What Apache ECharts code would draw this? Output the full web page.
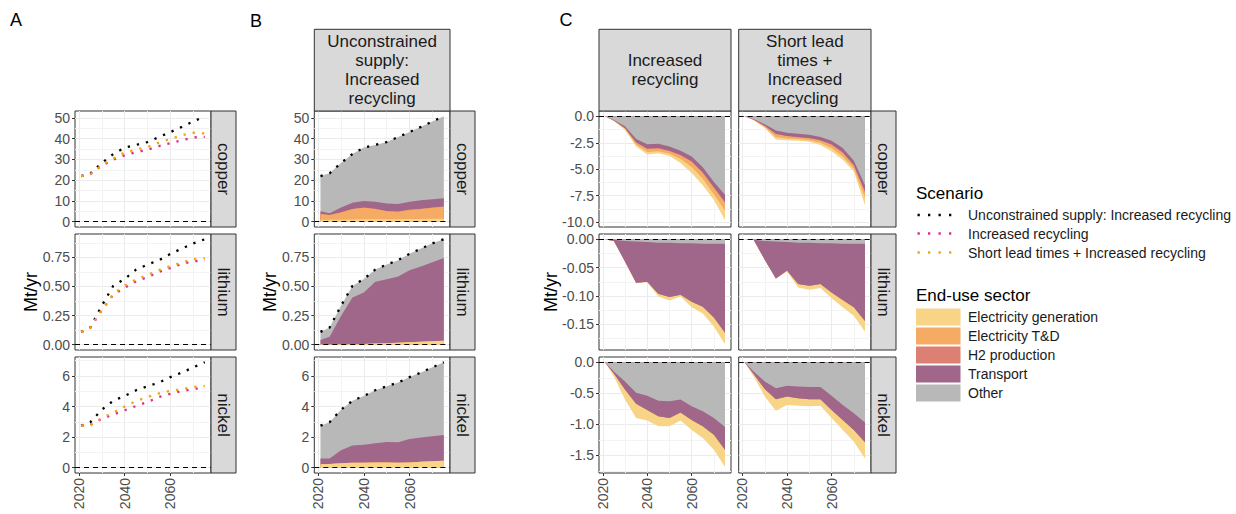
<!DOCTYPE html>
<html><head><meta charset="utf-8">
<script src="https://cdn.jsdelivr.net/npm/echarts@6/dist/echarts.min.js"></script>
<style>html,body{margin:0;padding:0;background:#fff}#c{width:1236px;height:514px}</style>
</head><body><div id="c"></div>
<script>
// ---------------- DATA ----------------
const years = [2021, 2025, 2030, 2035, 2040, 2045, 2050, 2055, 2060, 2065, 2070, 2075];
const minerals = ['copper', 'lithium', 'nickel'];
const scenarioNames = ['Unconstrained supply: Increased recycling', 'Increased recycling', 'Short lead times + Increased recycling'];
const sectorNames = ['Electricity generation', 'Electricity T&D', 'H2 production', 'Transport', 'Other'];
const stripTopB = 'Unconstrained\nsupply:\nIncreased\nrecycling';
const stripTopC1 = 'Increased\nrecycling';
const stripTopC2 = 'Short lead\ntimes +\nIncreased\nrecycling';
const xTicks = [2020, 2040, 2060];
const xMinorTicks = [2030, 2050, 2070];

// Panel A: total demand per scenario (Mt/yr)
const copperUnconstrained = [22.0, 23.3, 28.3, 32.6, 35.7, 37.0, 38.4, 40.8, 43.2, 45.7, 48.3, 50.8];
const copperIncreased = [22.0, 22.9, 27.0, 29.9, 32.0, 33.5, 34.7, 36.4, 37.9, 39.2, 40.6, 40.9];
const copperShortLead = [22.0, 22.9, 27.2, 30.4, 33.4, 34.7, 36.0, 38.1, 39.9, 41.6, 42.9, 42.5];
const lithiumUnconstrained = [0.110, 0.148, 0.335, 0.505, 0.565, 0.645, 0.688, 0.726, 0.780, 0.825, 0.870, 0.905];
const lithiumIncreased = [0.110, 0.145, 0.296, 0.429, 0.489, 0.544, 0.580, 0.625, 0.660, 0.694, 0.716, 0.722];
const lithiumShortLead = [0.110, 0.147, 0.299, 0.436, 0.508, 0.560, 0.599, 0.640, 0.676, 0.705, 0.735, 0.742];
const nickelUnconstrained = [2.75, 2.98, 3.80, 4.38, 4.70, 5.07, 5.33, 5.57, 5.93, 6.23, 6.57, 6.90];
const nickelIncreased = [2.75, 2.80, 3.20, 3.48, 3.76, 4.04, 4.30, 4.63, 4.84, 5.01, 5.16, 5.21];
const nickelShortLead = [2.75, 2.80, 3.25, 3.60, 4.01, 4.37, 4.62, 4.87, 5.03, 5.14, 5.29, 5.35];

// Panel B: unconstrained demand by end-use sector
const bCopperGen = [1.0, 0.9, 1.0, 1.1, 1.2, 1.2, 1.2, 1.2, 1.3, 1.3, 1.4, 1.4];
const bCopperTD = [2.7, 2.3, 3.5, 5.0, 5.5, 4.9, 3.9, 3.6, 4.4, 4.8, 5.3, 5.8];
const bCopperH2 = [0.0, 0.0, 0.05, 0.05, 0.1, 0.1, 0.1, 0.1, 0.15, 0.15, 0.2, 0.2];
const bCopperTransport = [1.4, 0.9, 2.35, 3.05, 3.2, 3.4, 3.6, 3.6, 3.75, 4.15, 3.9, 3.9];
const bCopperOther = [16.9, 19.2, 21.4, 23.4, 25.7, 27.4, 29.6, 32.3, 33.6, 35.3, 37.5, 39.5];
const bLithiumGen = [0.002, 0.002, 0.003, 0.004, 0.006, 0.010, 0.013, 0.016, 0.022, 0.026, 0.030, 0.035];
const bLithiumTD = [0, 0, 0, 0, 0, 0, 0, 0, 0, 0, 0, 0];
const bLithiumH2 = [0, 0, 0, 0, 0, 0, 0, 0, 0, 0, 0, 0];
const bLithiumTransport = [0.038, 0.067, 0.244, 0.401, 0.442, 0.530, 0.550, 0.570, 0.618, 0.646, 0.677, 0.709];
const bLithiumOther = [0.070, 0.079, 0.088, 0.100, 0.117, 0.105, 0.125, 0.140, 0.140, 0.153, 0.163, 0.161];
const bNickelGen = [0.22, 0.24, 0.30, 0.32, 0.32, 0.35, 0.35, 0.32, 0.35, 0.39, 0.43, 0.45];
const bNickelTD = [0, 0, 0, 0, 0, 0, 0, 0, 0, 0, 0, 0];
const bNickelH2 = [0, 0, 0, 0, 0, 0, 0, 0, 0, 0, 0, 0];
const bNickelTransport = [0.38, 0.36, 0.85, 1.13, 1.18, 1.25, 1.34, 1.35, 1.53, 1.58, 1.63, 1.69];
const bNickelOther = [2.15, 2.38, 2.65, 2.93, 3.20, 3.47, 3.64, 3.90, 4.05, 4.26, 4.51, 4.76];

// Panel C: change vs unconstrained, by sector — Increased recycling (IR) / Short lead times (SL)
const cCopperIROther = [0, -0.35, -0.95, -2.15, -2.65, -2.6, -2.85, -3.25, -3.8, -4.8, -6.2, -7.4];
const cCopperIRTransport = [0, -0.05, -0.15, -0.3, -0.4, -0.4, -0.4, -0.4, -0.45, -0.5, -0.5, -0.7];
const cCopperIRH2 = [0, 0, -0.01, -0.02, -0.03, -0.03, -0.03, -0.03, -0.04, -0.04, -0.05, -0.05];
const cCopperIRTD = [0, -0.03, -0.1, -0.2, -0.3, -0.27, -0.25, -0.35, -0.5, -0.55, -0.6, -0.75];
const cCopperIRGen = [0, -0.02, -0.09, -0.17, -0.22, -0.2, -0.22, -0.37, -0.56, -0.61, -0.55, -0.9];
const cCopperSLOther = [0, -0.25, -0.75, -1.35, -1.55, -1.65, -1.75, -1.95, -2.3, -3.0, -4.2, -6.5];
const cCopperSLTransport = [0, -0.05, -0.15, -0.3, -0.3, -0.3, -0.3, -0.3, -0.35, -0.4, -0.4, -0.6];
const cCopperSLH2 = [0, 0, -0.01, -0.02, -0.02, -0.02, -0.02, -0.02, -0.03, -0.03, -0.04, -0.05];
const cCopperSLTD = [0, -0.05, -0.11, -0.28, -0.23, -0.18, -0.18, -0.23, -0.32, -0.37, -0.31, -0.55];
const cCopperSLGen = [0, -0.03, -0.08, -0.25, -0.17, -0.15, -0.15, -0.2, -0.3, -0.3, -0.25, -0.7];
const cLithiumIROther = [0, -0.001, -0.003, -0.004, -0.005, -0.006, -0.006, -0.007, -0.007, -0.008, -0.008, -0.008];
const cLithiumIRTransport = [0, -0.002, -0.036, -0.0725, -0.070, -0.090, -0.096, -0.091, -0.103, -0.111, -0.130, -0.157];
const cLithiumIRH2 = [0, 0, 0, 0, 0, 0, 0, 0, 0, 0, 0, 0];
const cLithiumIRTD = [0, 0, 0, 0, 0, 0, 0, 0, 0, 0, 0, 0];
const cLithiumIRGen = [0, 0, 0, 0, -0.001, -0.005, -0.006, -0.003, -0.010, -0.012, -0.016, -0.020];
const cLithiumSLOther = [0, -0.001, -0.003, -0.004, -0.005, -0.006, -0.006, -0.007, -0.007, -0.008, -0.008, -0.008];
const cLithiumSLTransport = [0, 0, -0.033, -0.065, -0.050, -0.073, -0.076, -0.072, -0.087, -0.099, -0.112, -0.136];
const cLithiumSLH2 = [0, 0, 0, 0, 0, 0, 0, 0, 0, 0, 0, 0];
const cLithiumSLTD = [0, 0, 0, 0, 0, 0, 0, 0, 0, 0, 0, 0];
const cLithiumSLGen = [0, 0, 0, 0, -0.002, -0.006, -0.007, -0.007, -0.010, -0.013, -0.015, -0.019];
const cNickelIROther = [0, -0.15, -0.31, -0.49, -0.54, -0.62, -0.63, -0.60, -0.71, -0.79, -0.90, -1.045];
const cNickelIRTransport = [0, -0.03, -0.13, -0.18, -0.23, -0.25, -0.27, -0.21, -0.22, -0.24, -0.27, -0.365];
const cNickelIRH2 = [0, 0, 0, 0, 0, 0, 0, 0, 0, 0, 0, 0];
const cNickelIRTD = [0, 0, 0, 0, 0, 0, 0, 0, 0, 0, 0, 0];
const cNickelIRGen = [0, -0.05, -0.16, -0.23, -0.17, -0.16, -0.13, -0.13, -0.16, -0.19, -0.24, -0.28];
const cNickelSLOther = [0, -0.15, -0.31, -0.42, -0.38, -0.39, -0.40, -0.40, -0.54, -0.69, -0.82, -0.97];
const cNickelSLTransport = [0, -0.04, -0.12, -0.175, -0.17, -0.19, -0.195, -0.195, -0.23, -0.24, -0.27, -0.32];
const cNickelSLH2 = [0, 0, 0, 0, 0, 0, 0, 0, 0, 0, 0, 0];
const cNickelSLTD = [0, 0, 0, 0, 0, 0, 0, 0, 0, 0, 0, 0];
const cNickelSLGen = [0, -0.04, -0.12, -0.185, -0.14, -0.12, -0.115, -0.105, -0.13, -0.16, -0.19, -0.26];

// ---------------- STYLE / LAYOUT ----------------
const FONT = '"Liberation Sans", Arial, Helvetica, sans-serif';
const scenarioColors = ['#000000', '#DE2D8F', '#F2A60C'];
const sectorColors = ['#F8D486', '#F5AB63', '#DB8073', '#A0678A', '#B8B8B8'];
const X_MIN = 2018.3, X_MAX = 2077.7;
const rowTops = [111, 234, 357], rowH = 116;
const colA = {left: 75, width: 136}, colB = {left: 314.3, width: 135.7};
const colC1 = {left: 599, width: 132}, colC2 = {left: 738.7, width: 132.3};
const STRIP_W = 25, TOP_STRIP_Y = 29.3;

const yAB = [
  {min: -2.54, max: 53.34, major: [0, 10, 20, 30, 40, 50], minor: [5, 15, 25, 35, 45], dec: 0},
  {min: -0.0453, max: 0.9503, major: [0, 0.25, 0.5, 0.75], minor: [0.125, 0.375, 0.625, 0.875], dec: 2},
  {min: -0.345, max: 7.245, major: [0, 2, 4, 6], minor: [1, 3, 5, 7], dec: 0}
];
const yC = [
  {min: -10.45, max: 0.5, major: [-10, -7.5, -5, -2.5, 0], minor: [-8.75, -6.25, -3.75, -1.25], dec: 1},
  {min: -0.1953, max: 0.0093, major: [-0.15, -0.1, -0.05, 0], minor: [-0.175, -0.125, -0.075, -0.025], dec: 2},
  {min: -1.785, max: 0.085, major: [-1.5, -1, -0.5, 0], minor: [-1.75, -1.25, -0.75, -0.25], dec: 1}
];

const aData = [
  [copperUnconstrained, copperIncreased, copperShortLead],
  [lithiumUnconstrained, lithiumIncreased, lithiumShortLead],
  [nickelUnconstrained, nickelIncreased, nickelShortLead]
];
const bData = [
  [bCopperGen, bCopperTD, bCopperH2, bCopperTransport, bCopperOther],
  [bLithiumGen, bLithiumTD, bLithiumH2, bLithiumTransport, bLithiumOther],
  [bNickelGen, bNickelTD, bNickelH2, bNickelTransport, bNickelOther]
];
const cDataIR = [
  [cCopperIRGen, cCopperIRTD, cCopperIRH2, cCopperIRTransport, cCopperIROther],
  [cLithiumIRGen, cLithiumIRTD, cLithiumIRH2, cLithiumIRTransport, cLithiumIROther],
  [cNickelIRGen, cNickelIRTD, cNickelIRH2, cNickelIRTransport, cNickelIROther]
];
const cDataSL = [
  [cCopperSLGen, cCopperSLTD, cCopperSLH2, cCopperSLTransport, cCopperSLOther],
  [cLithiumSLGen, cLithiumSLTD, cLithiumSLH2, cLithiumSLTransport, cLithiumSLOther],
  [cNickelSLGen, cNickelSLTD, cNickelSLH2, cNickelSLTransport, cNickelSLOther]
];

const grids = [], xAxes = [], yAxes = [], series = [];

function addPanel(col, row, ys, showY, showX) {
  const gi = grids.length;
  grids.push({left: col.left, top: rowTops[row], width: col.width, height: rowH, show: true,
    backgroundColor: '#FFFFFF', borderColor: '#333333', borderWidth: 1});
  const xi = xAxes.length;
  xAxes.push({type: 'value', gridIndex: gi, min: X_MIN, max: X_MAX, position: 'bottom',
    axisLine: {show: false, onZero: false},
    axisTick: {show: showX, length: 3, lineStyle: {color: '#333333', width: 1}, customValues: xTicks},
    axisLabel: {show: showX, customValues: xTicks, rotate: 90, margin: 5, color: '#4D4D4D', fontSize: 14, fontFamily: FONT, formatter: v => String(v)},
    splitLine: {show: true, lineStyle: {color: '#EBEBEB', width: 1}}});
  xAxes.push({type: 'value', gridIndex: gi, min: X_MIN, max: X_MAX, position: 'bottom',
    axisLine: {show: false, onZero: false},
    axisTick: {show: false, customValues: xMinorTicks},
    axisLabel: {show: false, customValues: xMinorTicks},
    splitLine: {show: true, lineStyle: {color: '#F3F3F3', width: 1}}});
  const yi = yAxes.length;
  yAxes.push({type: 'value', gridIndex: gi, min: ys.min, max: ys.max, position: 'left',
    axisLine: {show: false, onZero: false},
    axisTick: {show: showY, length: 3, lineStyle: {color: '#333333', width: 1}, customValues: ys.major},
    axisLabel: {show: showY, customValues: ys.major, margin: 5, color: '#4D4D4D', fontSize: 14, fontFamily: FONT, formatter: v => Number(v).toFixed(ys.dec)},
    splitLine: {show: true, lineStyle: {color: '#EBEBEB', width: 1}}});
  yAxes.push({type: 'value', gridIndex: gi, min: ys.min, max: ys.max, position: 'left',
    axisLine: {show: false, onZero: false},
    axisTick: {show: false, customValues: ys.minor},
    axisLabel: {show: false, customValues: ys.minor},
    splitLine: {show: true, lineStyle: {color: '#F3F3F3', width: 1}}});
  return {xi, yi};
}

const zeroLine = {silent: true, symbol: ['none', 'none'], label: {show: false}, animation: false,
  lineStyle: {color: '#000000', type: [5, 4], width: 1.1}, data: [{yAxis: 0}]};
const dotted = c => ({color: c, width: 2.3, type: [2.3, 7], cap: 'butt'});
const pairs = arr => years.map((y, i) => [y, arr[i]]);
// running sum of layers 0..k (stack built from the sector arrays, in the given order)
const cumulative = (layers, k) => years.map((_, i) => layers.slice(0, k + 1).reduce((s, a) => s + a[i], 0));

function areaSeries(xi, yi, name, color, values, extra) {
  return Object.assign({type: 'line', name: name, xAxisIndex: xi, yAxisIndex: yi, data: pairs(values),
    showSymbol: false, symbol: 'none', silent: true, animation: false,
    lineStyle: {width: 0, opacity: 0}, areaStyle: {color: color, opacity: 1, origin: 0}, z: 2}, extra || {});
}

// Panel A
for (let r = 0; r < 3; r++) {
  const {xi, yi} = addPanel(colA, r, yAB[r], true, r === 2);
  for (let s = 0; s < 3; s++) {
    const ser = {type: 'line', name: scenarioNames[s], xAxisIndex: xi, yAxisIndex: yi, data: pairs(aData[r][s]),
      showSymbol: false, symbol: 'none', silent: true, animation: false, z: 3 + s, lineStyle: dotted(scenarioColors[s])};
    if (s === 0) ser.markLine = zeroLine;
    series.push(ser);
  }
}
// Panel B: stack upward Gen, T&D, H2, Transport, Other (painted top layer first)
for (let r = 0; r < 3; r++) {
  const {xi, yi} = addPanel(colB, r, yAB[r], true, r === 2);
  const layers = bData[r];
  for (let k = 4; k >= 0; k--) {
    series.push(areaSeries(xi, yi, sectorNames[k], sectorColors[k], cumulative(layers, k)));
  }
  series.push({type: 'line', name: scenarioNames[0], xAxisIndex: xi, yAxisIndex: yi, data: pairs(aData[r][0]),
    showSymbol: false, symbol: 'none', silent: true, animation: false, z: 5, lineStyle: dotted('#000000'), markLine: zeroLine});
}
// Panel C: stack downward from zero: Other, Transport, H2, T&D, Gen
[[colC1, cDataIR, true], [colC2, cDataSL, false]].forEach(([col, cd, showY]) => {
  for (let r = 0; r < 3; r++) {
    const {xi, yi} = addPanel(col, r, yC[r], showY, r === 2);
    const layers = cd[r].slice().reverse(); // Other, Transport, H2, T&D, Gen
    const names = sectorNames.slice().reverse();
    const colors = sectorColors.slice().reverse();
    for (let k = 4; k >= 0; k--) {
      const extra = k === 0 ? {markLine: zeroLine, z: 3} : {};
      series.push(areaSeries(xi, yi, names[k], colors[k], cumulative(layers, k), extra));
    }
  }
});

// ---------------- GRAPHIC (strips, titles, legend) ----------------
const graphics = [];
function txt(x, y, text, size, opts) {
  opts = opts || {};
  graphics.push({type: 'text', x: x, y: y, rotation: opts.rot || 0, z: 100,
    style: {x: 0, y: 0, text: text, fill: opts.fill || '#1A1A1A', font: size + 'px ' + FONT,
      align: opts.align || 'center', verticalAlign: 'middle', textAlign: opts.align || 'center', textVerticalAlign: 'middle',
      lineHeight: opts.lh || size * 1.15}});
}
function rect(x, y, w, h, fill, stroke) {
  graphics.push({type: 'rect', z: 99, shape: {x: x, y: y, width: w, height: h},
    style: {fill: fill, stroke: stroke || null, lineWidth: stroke ? 1 : 0}});
}
// right strips
[colA, colB, colC2].forEach(col => {
  const sx = col.left + col.width;
  for (let r = 0; r < 3; r++) {
    rect(sx, rowTops[r], STRIP_W, rowH, '#D9D9D9', '#333333');
    txt(sx + STRIP_W / 2, rowTops[r] + rowH / 2, minerals[r], 17, {rot: -Math.PI / 2});
  }
});
// top strips
[[colB, stripTopB], [colC1, stripTopC1], [colC2, stripTopC2]].forEach(([col, t]) => {
  rect(col.left, TOP_STRIP_Y, col.width, rowTops[0] - TOP_STRIP_Y, '#D9D9D9', '#333333');
  txt(col.left + col.width / 2, (TOP_STRIP_Y + rowTops[0]) / 2, t, 17, {lh: 19});
});
// panel tags
txt(16, 20, 'A', 18, {fill: '#000'});
txt(256, 21, 'B', 18, {fill: '#000'});
txt(566, 20, 'C', 18, {fill: '#000'});
// y titles
[31, 270, 551].forEach(x => txt(x, 292, 'Mt/yr', 18, {rot: Math.PI / 2, fill: '#000'}));
// legend: scenario
txt(916, 193, 'Scenario', 17, {align: 'left', fill: '#000'});
const scenY = [215, 233.5, 252.5];
scenarioNames.forEach((n, i) => {
  graphics.push({type: 'line', z: 100, shape: {x1: 917.5, y1: scenY[i], x2: 952, y2: scenY[i]},
    style: {stroke: scenarioColors[i], lineWidth: 2.3, lineDash: [2.3, 8.2]}});
  txt(968, scenY[i], n, 14, {align: 'left', fill: '#1A1A1A'});
});
// legend: sector
txt(916, 295, 'End-use sector', 17, {align: 'left', fill: '#000'});
const secY = [317, 336, 355, 374, 393];
sectorNames.forEach((n, i) => {
  rect(916, secY[i] - 8.5, 44.5, 17, sectorColors[i]);
  txt(968, secY[i], n, 14, {align: 'left', fill: '#1A1A1A'});
});

const chart = echarts.init(document.getElementById('c'), null, {renderer: 'svg', width: 1236, height: 514});
chart.setOption({
  animation: false,
  backgroundColor: '#FFFFFF',
  textStyle: {fontFamily: FONT},
  grid: grids, xAxis: xAxes, yAxis: yAxes, series: series, graphic: {elements: graphics}
});
</script></body></html>
